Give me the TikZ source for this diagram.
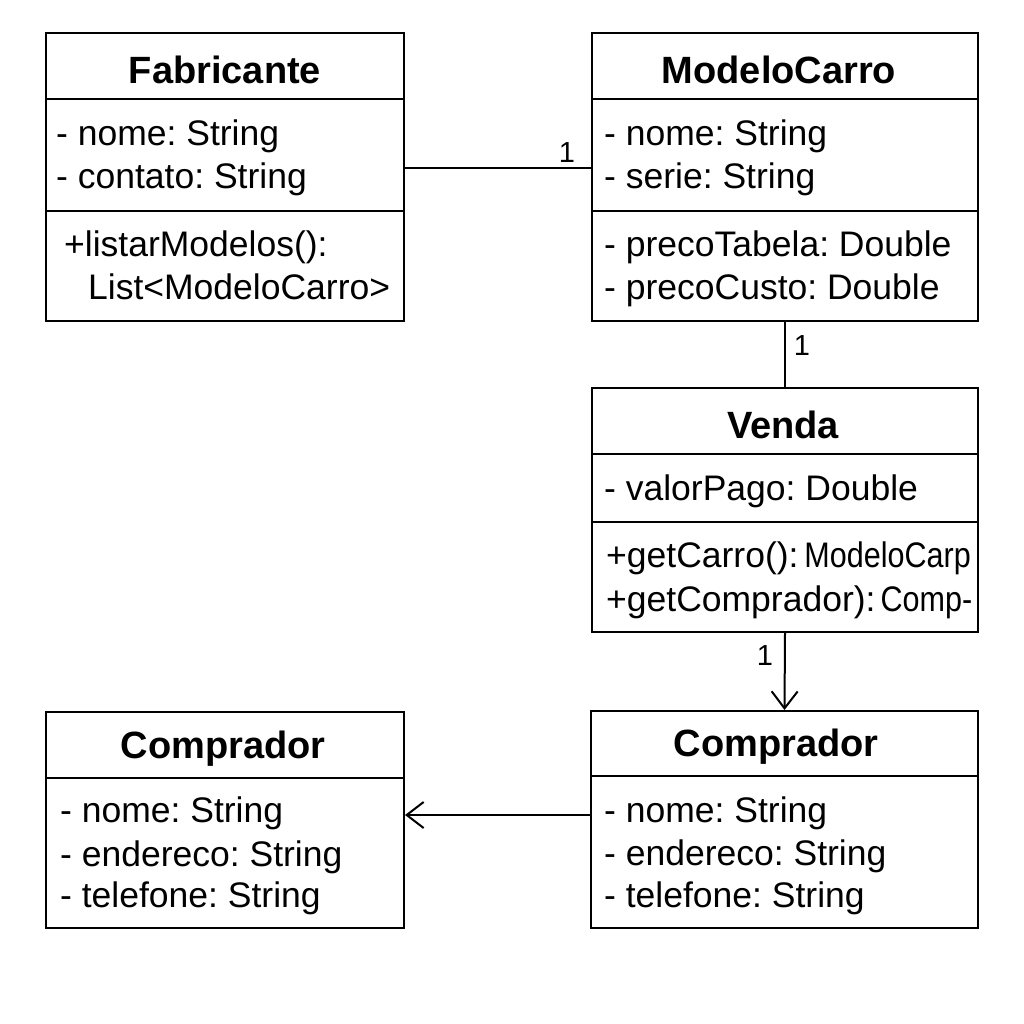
\documentclass[tikz,border=0pt]{standalone}
\usepackage{fontspec}
\setmainfont{Liberation Sans}
\usetikzlibrary{arrows.meta}
\frenchspacing
\tikzset{
  box/.style={draw, line width=2pt, rectangle, inner sep=0pt},
  ttl/.style={font=\fontsize{38}{42}\selectfont\bfseries, inner sep=0pt, yshift=-2pt},
  attr/.style={font=\fontsize{35.5}{40}\selectfont, anchor=mid west, inner sep=0pt, yshift=-9pt},
  conn/.style={line width=2pt},
  mult/.style={font=\fontsize{29}{33}\selectfont, inner sep=0pt},
  openarrow/.style={-{Straight Barb[length=17pt,width=26pt,line width=2pt]}}
}
\begin{document}
\begin{tikzpicture}[x=1pt,y=-1pt]
\useasboundingbox[fill=white] (0,0) rectangle (1024,1024);
% Fabricante
\node[box, minimum width=358pt, minimum height=288pt] (fab) at (225,177) {};
\draw[conn] (fab.west |- 0,99) -- (fab.east |- 0,99);
\draw[conn] (fab.west |- 0,211) -- (fab.east |- 0,211);
\node[ttl] (fabt) at (225,68) {Fabricante};
\node[attr] (fab1) at (56,134) {- nome: String};
\node[attr] (fab2) at (56,177) {- contato: String};
\node[attr] (fab3) at (64,245) {+listarModelos():};
\node[attr] (fab4) at (88,288) {List<ModeloCarro>};
% ModeloCarro
\node[box, minimum width=386pt, minimum height=288pt] (mod) at (785,177) {};
\draw[conn] (mod.west |- 0,99) -- (mod.east |- 0,99);
\draw[conn] (mod.west |- 0,211) -- (mod.east |- 0,211);
\node[ttl] (modt) at (779,68) {ModeloCarro};
\node[attr] (mod1) at (604,134) {- nome: String};
\node[attr] (mod2) at (604,177) {- serie: String};
\node[attr] (mod3) at (604,245) {- precoTabela: Double};
\node[attr] (mod4) at (604,288) {- precoCusto: Double};
% Venda
\node[box, minimum width=386pt, minimum height=244pt] (ven) at (785,510) {};
\draw[conn] (ven.west |- 0,454) -- (ven.east |- 0,454);
\draw[conn] (ven.west |- 0,522) -- (ven.east |- 0,522);
\node[ttl] (vent) at (783,423) {Venda};
\node[attr] (ven1) at (604,489) {- valorPago: Double};
\node[attr] (ven2) at (606,556) {+getCarro():\,\scalebox{0.86}[1]{ModeloCarp}};
\node[attr] (ven3) at (606,600) {+getComprador):\scalebox{0.86}[1]{\,Comp-}};
% Comprador right
\node[box, minimum width=387pt, minimum height=217pt] (comr) at (784.5,819.5) {};
\draw[conn] (comr.west |- 0,776) -- (comr.east |- 0,776);
\node[ttl] (comrt) at (776,745) {Comprador};
\node[attr] (comr1) at (604,811) {- nome: String};
\node[attr] (comr2) at (604,854) {- endereco: String};
\node[attr] (comr3) at (604,896) {- telefone: String};
% Comprador left
\node[box, minimum width=358pt, minimum height=216pt] (coml) at (225,820) {};
\draw[conn] (coml.west |- 0,778) -- (coml.east |- 0,778);
\node[ttl] (comlt) at (223,747) {Comprador};
\node[attr] (coml1) at (60,811) {- nome: String};
\node[attr] (coml2) at (60,855) {- endereco: String};
\node[attr] (coml3) at (60,896) {- telefone: String};
% connectors
\draw[conn] ([yshift=9pt]fab.east) -- ([yshift=9pt]mod.west);
\node[mult] (m1) at (567,153) {1};
\draw[conn] (mod.south) -- (ven.north);
\node[mult] (m2) at (802,346) {1};
\draw[conn, openarrow] (ven.south) -- (comr.north);
\node[mult] (m3) at (765,656) {1};
\draw[conn, openarrow] ([yshift=4.5pt]comr.west) -- ([yshift=5pt]coml.east);
\end{tikzpicture}
\end{document}
